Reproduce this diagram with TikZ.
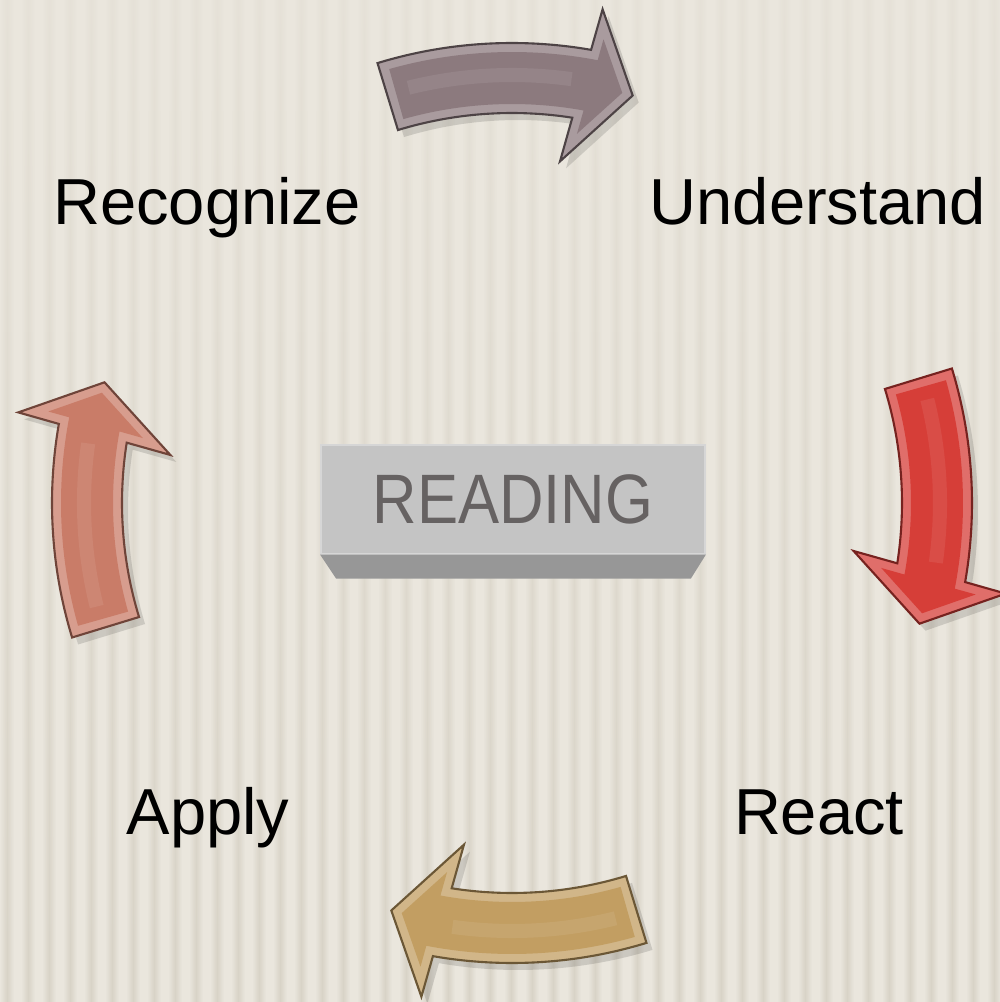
\documentclass[tikz,border=0pt]{standalone}
\usepackage{fontspec}
\setmainfont{Liberation Sans}
\usepackage{graphicx}
\usetikzlibrary{calc,fadings}

\definecolor{bgcream}{RGB}{234,230,221}
\definecolor{bgstripe}{RGB}{216,211,199}
\definecolor{arrMauve}{RGB}{140,122,126}
\definecolor{arrRed}{RGB}{214,62,56}
\definecolor{arrGold}{RGB}{194,158,98}
\definecolor{arrCopper}{RGB}{201,124,104}
\definecolor{keyTop}{RGB}{196,196,196}
\definecolor{keySide}{RGB}{151,151,151}
\definecolor{keyText}{RGB}{102,98,98}

%% one curved block arrow around the origin, centred on 0 deg, turning clockwise
\newcommand{\arcarrowout}{(17:460) arc[start angle=17, end angle=-9.9, radius=460]
  -- (-10.4:502) -- (-16.5:425) -- (-8:345) -- (-8.9:390)
  arc[start angle=-8.9, end angle=17, radius=390] -- cycle}
%% its flat top face, inset from the bevel
\newcommand{\arcarrowin}{(15.8:451) arc[start angle=15.8, end angle=-10.95, radius=451]
  -- (-11.16:472.7) -- (-15.05:424.7) -- (-9.98:374.9) -- (-10.33:399)
  arc[start angle=-10.33, end angle=15.8, radius=399] -- cycle}

\begin{document}
\begin{tikzpicture}[
    x=0.01cm, y=0.01cm,
    lbl/.style={font=\fontsize{18.5}{22}\selectfont, text=black, inner sep=0pt},
    key/.style={rectangle, fill=keyTop, draw=keyTop!70!white,
                minimum width=3.84cm, minimum height=1.09cm, inner sep=0pt,
                text=keyText, font=\fontsize{19.9}{24}\selectfont},
    shadow/.style={fill=black, opacity=0.13},
]
\useasboundingbox (0,0) rectangle (1000,1002);
\clip (0,0) rectangle (1000,1002);

%% ribbed paper, ribs fading out towards the top
\fill[bgcream] (0,0) rectangle (1000,1002);
\foreach \x in {0,21,...,1000}
  \shade[left color=bgcream, right color=bgcream, middle color=bgstripe]
    (\x,0) rectangle ++(14,1002);
\fill[bgcream, opacity=0.75, path fading=south] (0,0) rectangle (1000,1002);

%% the four arrows of the cycle
\foreach \rot/\col in {90/arrMauve, 0/arrRed, 270/arrGold, 180/arrCopper}{
  \begin{scope}[shift={(518,492)}, rotate=\rot]
    \fill[shadow] \arcarrowout;
  \end{scope}
  \begin{scope}[shift={(512,499)}, rotate=\rot]
    \filldraw[fill=\col!75!white, draw=\col!55!black, line width=0.6pt] \arcarrowout;
    \fill[\col] \arcarrowin;
    \draw[white, opacity=0.08, line width=4pt]
      (14:428) arc[start angle=14, end angle=-8, radius=428];
  \end{scope}
}

%% centre key
\node[key] (reading) at (513,502.5) {\scalebox{0.88}[1]{READING}};
\fill[keySide] (reading.south west) -- (reading.south east)
  -- ($(reading.south east)+(-15,-24)$) -- ($(reading.south west)+(16,-24)$) -- cycle;

%% steps
\node[lbl, anchor=base] (recognize)  at (207,777) {Recognize};
\node[lbl, anchor=base] (understand) at (818,777) {Understand};
\node[lbl, anchor=base] (react)      at (819,167) {React};
\node[lbl, anchor=base] (apply)      at (208,167) {Apply};

\end{tikzpicture}
\end{document}
